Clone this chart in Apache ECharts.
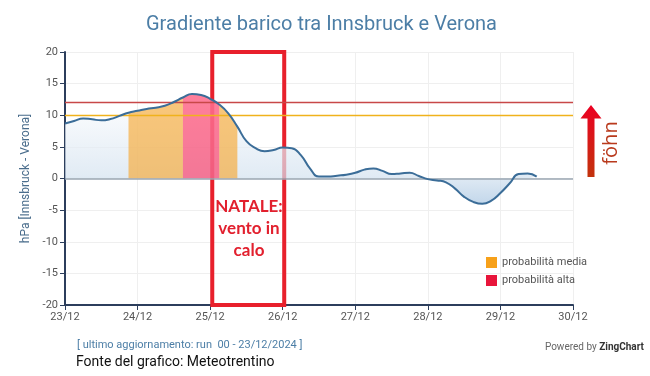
<!DOCTYPE html>
<html>
<head>
<meta charset="utf-8">
<script src="https://cdn.jsdelivr.net/npm/echarts@6/dist/echarts.min.js"></script>
<style>
html,body{margin:0;padding:0;background:#fff;}
#chart{width:650px;height:376px;}
</style>
</head>
<body>
<div id="chart"></div>
<script>
// hours since 23/12 00:00 (3-hourly forecast)
const hours = [0,3,6,9,12,15,18,21,24,27,30,33,36,39,42,45,48,51,54,57,60,63,66,69,72,75,78,81,84,87,90,93,96,99,102,105,108,111,114,117,120,123,126,129,132,135,138,141,144,147,150,153,156];
// pressure gradient Innsbruck - Verona (hPa)
const gradient = [8.7,9.1,9.5,9.35,9.2,9.4,9.9,10.4,10.7,11.0,11.2,11.5,12.1,12.8,13.35,13.2,12.6,11.7,10.3,8.2,5.9,4.8,4.3,4.5,4.9,4.8,3.7,1.6,0.3,0.3,0.45,0.6,0.9,1.4,1.6,1.2,0.7,0.8,0.9,0.4,-0.1,-0.3,-0.6,-1.6,-2.9,-3.7,-4.0,-3.5,-2.3,-0.8,0.7,0.8,0.3];
const tickLabels = ['23/12','24/12','25/12','26/12','27/12','28/12','29/12','30/12'];
const yTicks = [-20,-15,-10,-5,0,5,10,15,20];
const thresholdMedia = 10;
const thresholdAlta = 12;
// hour windows with föhn probability
const mediaWindows = [[21,39],[51,57]];
const altaWindows = [[39,51]];
const natale = [48.7, 72.5];

function windowed(wins){
  return hours.map((h,i)=>{
    const inside = wins.some(w=>h>=w[0]&&h<=w[1]);
    return [h, inside ? gradient[i] : null];
  });
}

const chart = echarts.init(document.getElementById('chart'), null, {renderer:'canvas'});
const lineData = hours.map((h,i)=>[h, gradient[i]]);

const option = {
  animation:false,
  backgroundColor:'#fff',
  title:{
    text:'Gradiente barico tra Innsbruck e Verona',
    left:141, top:10,
    textStyle:{color:'#4c7ea6',fontSize:20,fontWeight:'normal',fontFamily:'Roboto'}
  },
  legend:{
    orient:'vertical', left:481, top:252, itemWidth:11, itemHeight:11, itemGap:7,
    icon:'rect',
    textStyle:{color:'#555',fontSize:11,fontFamily:'Roboto'},
    data:[{name:'probabilità media',itemStyle:{color:'#f7a11a'}},{name:'probabilità alta',itemStyle:{color:'#e8153b'}}]
  },
  grid:{left:65,right:77,top:52,bottom:71},
  xAxis:{
    type:'value', min:0, max:168, interval:24,
    axisLine:{show:true,onZero:false,lineStyle:{color:'#2c3e5c',width:2}},
    axisTick:{show:true,length:5,lineStyle:{color:'#2c3e5c',width:1}},
    axisLabel:{color:'#555',fontSize:11,fontFamily:'Roboto',margin:7,formatter:v=>tickLabels[Math.round(v/24)]},
    splitLine:{show:true,lineStyle:{color:'#efefef',width:1}}
  },
  yAxis:{
    type:'value', min:yTicks[0], max:yTicks[yTicks.length-1], interval:5,
    name:'hPa [Innsbruck - Verona]', nameLocation:'middle', nameGap:31,
    nameTextStyle:{color:'#4a6d8c',fontSize:12,fontFamily:'Roboto'},
    axisLine:{show:true,lineStyle:{color:'#2c3e5c',width:2}},
    axisTick:{show:true,length:5,lineStyle:{color:'#2c3e5c',width:1}},
    axisLabel:{color:'#555',fontSize:11,fontFamily:'Roboto',margin:7},
    splitLine:{show:true,lineStyle:{color:'#efefef',width:1}}
  },
  series:[
    {
      name:'area', type:'line', data:lineData, smooth:true, showSymbol:false, z:1,
      lineStyle:{width:0,opacity:0},
      areaStyle:{color:new echarts.graphic.LinearGradient(0,0,0,1,[
        {offset:0,color:'rgba(255,255,255,1)'},
        {offset:0.74,color:'#d5e3f0'},
        {offset:1,color:'#a9c6e2'}])},
      markLine:{
        silent:true, symbol:'none', label:{show:false},
        lineStyle:{color:'#9aa6b2',width:1.5,type:'solid'},
        data:[
          {yAxis:0, lineStyle:{color:'#9aa6b2',width:1.5}},
          {yAxis:thresholdMedia, lineStyle:{color:'#f0b21c',width:1.3}},
          {yAxis:thresholdAlta, lineStyle:{color:'#c84848',width:1.3}}
        ]
      }
    },
    {
      name:'probabilità media', type:'line', data:windowed(mediaWindows), smooth:true, showSymbol:false, z:3,
      connectNulls:false, color:'#f7a11a',
      lineStyle:{width:0,opacity:0},
      areaStyle:{color:'#f7a42a',opacity:0.62}
    },
    {
      name:'probabilità alta', type:'line', data:windowed(altaWindows), smooth:true, showSymbol:false, z:3,
      color:'#e8153b',
      lineStyle:{width:0,opacity:0},
      areaStyle:{color:'#ff2a58',opacity:0.6}
    },
    {
      name:'gradiente', type:'line', data:lineData, smooth:true, showSymbol:false, z:5,
      lineStyle:{color:'#3b6d98',width:2},
      markArea:{
        silent:true,
        itemStyle:{color:'rgba(0,0,0,0)',borderColor:'#e8202c',borderWidth:4},
        data:[[{xAxis:natale[0],yAxis:20},{xAxis:natale[1],yAxis:-20}]]
      }
    }
  ],
  graphic:[
    {type:'text', x:249, y:229, style:{text:'NATALE:\nvento in\ncalo',fill:'#e2202e',font:'bold 17px Lato',align:'center',verticalAlign:'middle',lineHeight:22}, z:20},
    {type:'polygon', shape:{points:[[591,105],[601.5,118.5],[594.5,118.5],[594.5,177],[587.5,177],[587.5,118.5],[580.5,118.5]]},
      style:{fill:new echarts.graphic.LinearGradient(0,0,0,1,[{offset:0,color:'#ec0022'},{offset:1,color:'#c2330c'}])}, z:20},
    {type:'text', x:611, y:143, rotation:Math.PI/2, style:{text:'föhn',fill:'#b93a1d',font:'20px "Open Sans"',align:'center',verticalAlign:'middle'}, z:20},
    {type:'text', x:77, y:345, style:{text:'[ ultimo aggiornamento: run  00 - 23/12/2024 ]',fill:'#4c7ea6',font:'11px Roboto',verticalAlign:'middle'}},
    {type:'text', x:76, y:362, style:{text:'Fonte del grafico: Meteotrentino',fill:'#111',font:'14px Roboto',verticalAlign:'middle'}},
    {type:'text', x:644, y:347, style:{text:'{a|Powered by }{b|ZingChart}',align:'right',verticalAlign:'middle',
      rich:{a:{fill:'#666',font:'10px Roboto'},b:{fill:'#333',font:'bold 10px Roboto'}}}}
  ]
};
chart.setOption(option);
</script>
</body>
</html>
